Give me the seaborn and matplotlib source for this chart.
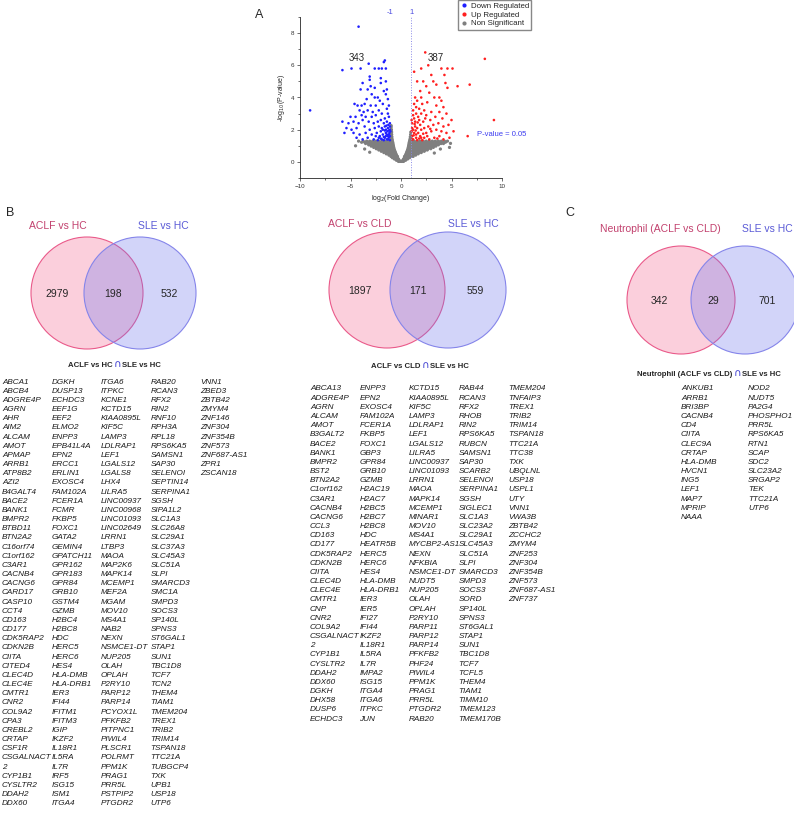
import numpy as np
import pandas as pd
import matplotlib.pyplot as plt
import seaborn as sns
from matplotlib.patches import Circle
from matplotlib.ticker import AutoMinorLocator

sns.set_style("ticks")
plt.rcParams['font.family'] = ['Liberation Sans', 'DejaVu Sans']

# ---- volcano data ----
down_pts = [(-4.2, 8.4), (-9.0, 3.2), (-5.8, 5.7), (-5.8, 2.5), (-4.9, 5.8), (-3.2, 6.1), (-1.6, 6.3),
            (-1.7, 6.2), (-1.5, 5.8), (-1.9, 5.8), (-2.2, 5.8), (-2.6, 5.8), (-4.0, 5.8), (-3.1, 5.3),
            (-3.1, 5.1), (-3.0, 4.7), (-2.0, 5.2), (-2.0, 4.9), (-1.5, 5.0), (-3.8, 4.9), (-4.0, 4.5),
            (-3.3, 4.5), (-2.6, 4.6), (-1.4, 4.5), (-1.7, 4.4), (-2.9, 4.2), (-2.3, 4.0), (-2.6, 4.0),
            (-1.5, 4.2), (-3.4, 3.9), (-2.1, 3.8), (-1.3, 3.9), (-4.6, 3.6), (-4.3, 3.5), (-3.9, 3.5),
            (-3.6, 3.6), (-3.0, 3.5), (-2.5, 3.5), (-1.8, 3.6), (-1.2, 3.5), (-1.4, 3.3), (-4.1, 3.2),
            (-3.7, 3.1), (-3.3, 3.2), (-2.8, 3.1), (-2.2, 3.2), (-1.9, 3.0), (-1.3, 3.0), (-5.0, 2.8),
            (-4.5, 2.8), (-3.9, 2.9), (-3.5, 2.8), (-2.9, 2.8), (-2.5, 2.9), (-1.6, 2.7), (-1.2, 2.8),
            (-5.2, 2.4), (-4.7, 2.5), (-4.2, 2.4), (-3.8, 2.6), (-3.2, 2.5), (-2.7, 2.4), (-2.3, 2.5),
            (-2.0, 2.6), (-1.7, 2.4), (-1.4, 2.5), (-1.1, 2.4), (-5.4, 2.1), (-4.9, 2.0), (-4.4, 2.1),
            (-3.6, 2.2), (-3.1, 2.0), (-2.6, 2.1), (-2.2, 2.2), (-1.9, 2.1), (-1.6, 2.2), (-1.3, 2.1),
            (-1.1, 2.0), (-4.7, 1.8), (-4.1, 1.7), (-3.5, 1.8), (-2.9, 1.7), (-2.4, 1.8), (-2.0, 1.9),
            (-1.8, 1.7), (-1.5, 1.8), (-1.2, 1.7), (-1.05, 1.9), (-4.4, 1.5), (-3.8, 1.4), (-3.3, 1.5),
            (-2.7, 1.4), (-2.2, 1.5), (-1.9, 1.4), (-1.6, 1.5), (-1.4, 1.4), (-1.2, 1.5), (-1.1, 1.35),
            (-2.5, 1.6), (-1.7, 1.35), (-1.3, 1.6), (-1.5, 1.6), (-1.15, 1.8), (-1.35, 1.9), (-1.8, 2.0),
            (-2.1, 1.6), (-1.25, 2.3), (-1.5, 2.0), (-5.6, 1.8), (-1.1, 1.6), (-1.3, 1.4), (-1.7, 1.55),
            (-1.4, 1.7), (-1.1, 2.2), (-1.6, 1.95), (-2.0, 1.45), (-1.2, 1.95), (-1.45, 2.25), (-2.3, 1.35)]

up_pts = [(2.4, 6.8), (8.3, 6.4), (2.7, 6.0), (2.0, 5.8), (1.3, 5.6), (4.0, 5.8), (4.6, 5.8), (5.1, 5.8),
          (3.0, 5.4), (4.3, 5.4), (1.6, 5.0), (2.2, 5.0), (3.2, 5.0), (4.4, 4.9), (6.8, 4.8), (5.6, 4.7),
          (3.5, 4.8), (2.5, 4.7), (4.6, 4.6), (1.9, 4.4), (1.4, 4.0), (2.8, 4.3), (3.3, 4.0), (3.8, 4.0),
          (4.0, 3.8), (1.6, 3.8), (2.1, 3.6), (2.6, 3.7), (3.5, 3.5), (4.2, 3.4), (1.8, 3.3), (2.3, 3.2),
          (3.0, 3.1), (3.8, 3.1), (4.5, 3.0), (9.2, 2.6), (5.0, 2.6), (4.1, 2.7), (3.4, 2.8), (2.9, 2.6),
          (2.5, 2.9), (2.0, 3.0), (1.5, 3.0), (1.2, 2.9), (4.7, 2.3), (4.2, 2.2), (3.7, 2.4), (3.2, 2.3),
          (2.7, 2.2), (2.2, 2.5), (1.8, 2.6), (1.4, 2.5), (1.1, 2.4), (5.2, 1.9), (4.5, 1.8), (4.0, 1.9),
          (3.5, 2.0), (3.0, 1.9), (2.5, 1.8), (2.0, 2.0), (1.6, 2.1), (1.2, 2.0), (6.6, 1.6), (4.8, 1.5),
          (4.2, 1.4), (3.8, 1.6), (3.3, 1.5), (2.8, 1.4), (2.3, 1.5), (1.9, 1.6), (1.5, 1.5), (1.1, 1.6),
          (1.3, 1.8), (1.7, 1.8), (1.4, 2.2), (1.9, 2.3), (1.2, 1.4), (1.6, 1.35), (2.1, 1.35), (1.05, 1.9),
          (1.3, 2.7), (1.7, 2.8), (2.4, 2.7), (1.5, 3.4), (1.2, 3.2), (2.0, 1.5), (1.5, 1.7), (2.6, 1.6),
          (1.1, 2.1), (1.35, 2.35), (1.8, 1.45), (1.25, 1.65), (2.2, 1.75), (1.45, 1.95), (1.1, 1.4),
          (1.65, 2.45), (2.3, 2.1), (1.05, 2.6), (2.9, 2.05), (3.6, 1.45), (1.3, 3.6), (2.0, 4.0)]

gray_rows = [
    (0.03, [-0.25, -0.1, 0.0, 0.1, 0.25]),
    (0.10, [-0.45, -0.3, -0.18, 0.18, 0.3, 0.45]),
    (0.18, [-0.65, -0.45, -0.25, 0.25, 0.45, 0.65]),
    (0.26, [-0.85, -0.6, -0.35, 0.35, 0.6, 0.85]),
    (0.34, [-1.0, -0.75, -0.5, -0.35, 0.35, 0.5, 0.75, 1.0, 1.2]),
    (0.42, [-1.2, -0.95, -0.7, -0.45, 0.45, 0.7, 0.95, 1.2, 1.45]),
    (0.50, [-1.45, -1.2, -0.95, -0.7, -0.5, 0.5, 0.7, 0.95, 1.2, 1.45, 1.7]),
    (0.58, [-1.7, -1.45, -1.2, -0.95, -0.7, -0.55, 0.55, 0.75, 1.0, 1.25, 1.5, 1.75, 2.0]),
    (0.66, [-1.95, -1.7, -1.45, -1.2, -0.95, -0.75, -0.6, 0.6, 0.8, 1.05, 1.3, 1.55, 1.8, 2.05, 2.3]),
    (0.74, [-2.2, -1.95, -1.7, -1.45, -1.2, -0.95, -0.65, 0.65, 0.9, 1.15, 1.4, 1.65, 1.9, 2.15, 2.4, 2.6]),
    (0.82, [-2.45, -2.2, -1.95, -1.7, -1.45, -1.2, -0.95, -0.7, 0.7, 0.95, 1.2, 1.45, 1.7, 1.95, 2.2,
            2.45, 2.7, 2.95]),
    (0.90, [-2.7, -2.45, -2.2, -1.95, -1.7, -1.45, -1.2, -0.95, -0.72, 0.72, 0.95, 1.2, 1.45, 1.7,
            1.95, 2.2, 2.45, 2.7, 2.95, 3.2]),
    (0.98, [-2.95, -2.7, -2.45, -2.2, -1.95, -1.7, -1.45, -1.2, -0.95, -0.75, 0.75, 0.95, 1.2, 1.45,
            1.7, 1.95, 2.2, 2.45, 2.7, 2.95, 3.2, 3.45]),
    (1.06, [-3.2, -2.95, -2.7, -2.45, -2.2, -1.95, -1.7, -1.45, -1.2, -0.98, -0.78, 0.78, 0.98, 1.2,
            1.45, 1.7, 1.95, 2.2, 2.45, 2.7, 2.95, 3.2, 3.45, 3.7]),
    (1.14, [-3.5, -3.2, -2.95, -2.7, -2.45, -2.2, -1.95, -1.7, -1.45, -1.2, -0.98, -0.8, 0.8, 0.98,
            1.2, 1.45, 1.7, 1.95, 2.2, 2.45, 2.7, 2.95, 3.2, 3.45, 3.7, 3.95, 4.2]),
    (1.22, [-3.9, -3.6, -3.3, -3.0, -2.7, -2.45, -2.2, -1.95, -1.7, -1.45, -1.2, -1.0, -0.82, 0.82,
            1.0, 1.2, 1.45, 1.7, 1.95, 2.2, 2.45, 2.7, 2.95, 3.2, 3.5, 3.8, 4.1, 4.4]),
    (1.29, [-4.2, -3.75, -3.4, -3.1, -2.8, -2.5, -2.2, -1.9, -1.6, -1.3, -1.05, -0.85, 0.85, 1.05,
            1.3, 1.6, 1.9, 2.2, 2.5, 2.8, 3.1, 3.4, 3.7, 4.0, 4.3, 4.6]),
    (1.40, [-0.97, -0.87, 0.88, 0.97]),
    (1.55, [-0.98, -0.9, 0.92, 0.98]),
    (1.70, [-0.98, -0.92, 0.95]),
    (1.85, [-0.98, -0.93, 0.97]),
    (2.00, [-0.98, -0.95]),
    (2.15, [-0.98]),
    (2.25, [-0.97]),
]
gray_extra = [(4.9, 1.15), (-4.5, 1.0), (4.8, 0.9), (-3.6, 0.8), (3.9, 0.8), (-3.1, 0.6), (3.3, 0.55)]

# ---- venn counts ----
venn_b1 = {"left": 2979, "both": 198, "right": 532}
venn_b2 = {"left": 1897, "both": 171, "right": 559}
venn_c = {"left": 342, "both": 29, "right": 701}

# ---- intersecting genes ----
genes_b1 = [
    ["ABCA1", "ABCB4", "ADGRE4P", "AGRN", "AHR", "AIM2", "ALCAM", "AMOT", "APMAP", "ARRB1", "ATP8B2",
     "AZI2", "B4GALT4", "BACE2", "BANK1", "BMPR2", "BTBD11", "BTN2A2", "C16orf74", "C1orf162", "C3AR1",
     "CACNB4", "CACNG6", "CARD17", "CASP10", "CCT4", "CD163", "CD177", "CDK5RAP2", "CDKN2B", "CIITA",
     "CITED4", "CLEC4D", "CLEC4E", "CMTR1", "CNR2", "COL9A2", "CPA3", "CREBL2", "CRTAP", "CSF1R",
     "CSGALNACT", "2", "CYP1B1", "CYSLTR2", "DDAH2", "DDX60"],
    ["DGKH", "DUSP13", "ECHDC3", "EEF1G", "EEF2", "ELMO2", "ENPP3", "EPB41L4A", "EPN2", "ERCC1", "ERLIN1",
     "EXOSC4", "FAM102A", "FCER1A", "FCMR", "FKBP5", "FOXC1", "GATA2", "GEMIN4", "GPATCH11", "GPR162",
     "GPR183", "GPR84", "GRB10", "GSTM4", "GZMB", "H2BC4", "H2BC8", "HDC", "HERC5", "HERC6", "HES4",
     "HLA-DMB", "HLA-DRB1", "IER3", "IFI44", "IFITM1", "IFITM3", "IGIP", "IKZF2", "IL18R1", "IL5RA",
     "IL7R", "IRF5", "ISG15", "ISM1", "ITGA4"],
    ["ITGA6", "ITPKC", "KCNE1", "KCTD15", "KIAA0895L", "KIF5C", "LAMP3", "LDLRAP1", "LEF1", "LGALS12",
     "LGALS8", "LHX4", "LILRA5", "LINC00937", "LINC00968", "LINC01093", "LINC02649", "LRRN1", "LTBP3",
     "MAOA", "MAP2K6", "MAPK14", "MCEMP1", "MEF2A", "MGAM", "MOV10", "MS4A1", "NAB2", "NEXN", "NSMCE1-DT",
     "NUP205", "OLAH", "OPLAH", "P2RY10", "PARP12", "PARP14", "PCYOX1L", "PFKFB2", "PITPNC1", "PIWIL4",
     "PLSCR1", "POLRMT", "PPM1K", "PRAG1", "PRR5L", "PSTPIP2", "PTGDR2"],
    ["RAB20", "RCAN3", "RFX2", "RIN2", "RNF10", "RPH3A", "RPL18", "RPS6KA5", "SAMSN1", "SAP30", "SELENOI",
     "SEPTIN14", "SERPINA1", "SGSH", "SIPA1L2", "SLC1A3", "SLC26A8", "SLC29A1", "SLC37A3", "SLC45A3",
     "SLC51A", "SLPI", "SMARCD3", "SMC1A", "SMPD3", "SOCS3", "SP140L", "SPNS3", "ST6GAL1", "STAP1", "SUN1",
     "TBC1D8", "TCF7", "TCN2", "THEM4", "TIAM1", "TMEM204", "TREX1", "TRIB2", "TRIM14", "TSPAN18",
     "TTC21A", "TUBGCP4", "TXK", "UPB1", "USP18", "UTP6"],
    ["VNN1", "ZBED3", "ZBTB42", "ZMYM4", "ZNF146", "ZNF304", "ZNF354B", "ZNF573", "ZNF687-AS1", "ZPR1",
     "ZSCAN18"],
]
genes_b2 = [
    ["ABCA13", "ADGRE4P", "AGRN", "ALCAM", "AMOT", "B3GALT2", "BACE2", "BANK1", "BMPR2", "BST2", "BTN2A2",
     "C1orf162", "C3AR1", "CACNB4", "CACNG6", "CCL3", "CD163", "CD177", "CDK5RAP2", "CDKN2B", "CIITA",
     "CLEC4D", "CLEC4E", "CMTR1", "CNP", "CNR2", "COL9A2", "CSGALNACT", "2", "CYP1B1", "CYSLTR2", "DDAH2",
     "DDX60", "DGKH", "DHX58", "DUSP6", "ECHDC3"],
    ["ENPP3", "EPN2", "EXOSC4", "FAM102A", "FCER1A", "FKBP5", "FOXC1", "GBP3", "GPR84", "GRB10", "GZMB",
     "H2AC19", "H2AC7", "H2BC5", "H2BC7", "H2BC8", "HDC", "HEATR5B", "HERC5", "HERC6", "HES4", "HLA-DMB",
     "HLA-DRB1", "IER3", "IER5", "IFI27", "IFI44", "IKZF2", "IL18R1", "IL5RA", "IL7R", "IMPA2", "ISG15",
     "ITGA4", "ITGA6", "ITPKC", "JUN"],
    ["KCTD15", "KIAA0895L", "KIF5C", "LAMP3", "LDLRAP1", "LEF1", "LGALS12", "LILRA5", "LINC00937",
     "LINC01093", "LRRN1", "MAOA", "MAPK14", "MCEMP1", "MINAR1", "MOV10", "MS4A1", "MYCBP2-AS1", "NEXN",
     "NFKBIA", "NSMCE1-DT", "NUDT5", "NUP205", "OLAH", "OPLAH", "P2RY10", "PARP11", "PARP12", "PARP14",
     "PFKFB2", "PHF24", "PIWIL4", "PPM1K", "PRAG1", "PRR5L", "PTGDR2", "RAB20"],
    ["RAB44", "RCAN3", "RFX2", "RHOB", "RIN2", "RPS6KA5", "RUBCN", "SAMSN1", "SAP30", "SCARB2", "SELENOI",
     "SERPINA1", "SGSH", "SIGLEC1", "SLC1A3", "SLC23A2", "SLC29A1", "SLC45A3", "SLC51A", "SLPI", "SMARCD3",
     "SMPD3", "SOCS3", "SORD", "SP140L", "SPNS3", "ST6GAL1", "STAP1", "SUN1", "TBC1D8", "TCF7", "TCFL5",
     "THEM4", "TIAM1", "TIMM10", "TMEM123", "TMEM170B"],
    ["TMEM204", "TNFAIP3", "TREX1", "TRIB2", "TRIM14", "TSPAN18", "TTC21A", "TTC38", "TXK", "UBQLNL",
     "USP18", "USPL1", "UTY", "VNN1", "VWA3B", "ZBTB42", "ZCCHC2", "ZMYM4", "ZNF253", "ZNF304", "ZNF354B",
     "ZNF573", "ZNF687-AS1", "ZNF737"],
]
genes_c = [
    ["ANKUB1", "ARRB1", "BRI3BP", "CACNB4", "CD4", "CIITA", "CLEC9A", "CRTAP", "HLA-DMB", "HVCN1", "ING5",
     "LEF1", "MAP7", "MPRIP", "NAAA"],
    ["NOD2", "NUDT5", "PA2G4", "PHOSPHO1", "PRR5L", "RPS6KA5", "RTN1", "SCAP", "SDC2", "SLC23A2", "SRGAP2",
     "TEK", "TTC21A", "UTP6"],
]

# ---- build volcano frame ----
gray_pts = [(x, y) for y, xs in gray_rows for x in xs] + gray_extra
df_gray = pd.DataFrame(gray_pts, columns=["fc", "p"]).assign(group="Non Significant")
df_sig = pd.concat([
    pd.DataFrame(down_pts, columns=["fc", "p"]).assign(group="Down Regulated"),
    pd.DataFrame(up_pts, columns=["fc", "p"]).assign(group="Up Regulated"),
], ignore_index=True)

W, H = 794, 816
fig = plt.figure(figsize=(W / 100, H / 100), dpi=100)

# overlay axes in pixel coords for venns and gene lists
ov = fig.add_axes([0, 0, 1, 1])
ov.set_xlim(0, W)
ov.set_ylim(H, 0)
ov.axis("off")

ax = fig.add_axes([300 / W, 1 - 178 / H, 202 / W, 161 / H])
palette = {"Down Regulated": "#1f1fff", "Up Regulated": "#ff1f1f", "Non Significant": "#7f7f7f"}
order = ["Down Regulated", "Up Regulated", "Non Significant"]
sns.scatterplot(data=df_gray, x="fc", y="p", hue="group", palette=palette, s=5.5, linewidth=0,
                hue_order=order, ax=ax, legend=False)
sns.scatterplot(data=df_sig, x="fc", y="p", hue="group", palette=palette, s=3.5, linewidth=0,
                hue_order=order, ax=ax, legend=False)
ax.set_xlim(-10, 10)
ax.set_ylim(-1, 9)
ax.set_xticks([-10, -5, 0, 5, 10])
ax.set_yticks([0, 2, 4, 6, 8])
ax.xaxis.set_minor_locator(AutoMinorLocator(2))
ax.yaxis.set_minor_locator(AutoMinorLocator(2))
ax.tick_params(which="both", direction="out", labelsize=4.5, width=0.5, pad=1.5, colors="#333333")
ax.tick_params(which="major", length=2.5)
ax.tick_params(which="minor", length=1.5)
sns.despine(ax=ax)
for sp in ax.spines.values():
    sp.set_linewidth(0.6)
ax.set_xlabel(r"log$_2$(Fold Change)", fontsize=5, labelpad=3)
ax.set_ylabel(r"-log$_{10}$(P-value)", fontsize=5, labelpad=3)
ax.axvline(1, color="#8a8ae8", ls=":", lw=0.7)
ax.text(-1.1, 9.3, "-1", color="#4a4ae0", fontsize=5.5, ha="center", va="center", clip_on=False)
ax.text(1.05, 9.3, "1", color="#4a4ae0", fontsize=5.5, ha="center", va="center", clip_on=False)
ax.text(-4.4, 6.45, "343", fontsize=7, ha="center", va="center")
ax.text(3.4, 6.45, "387", fontsize=7, ha="center", va="center")
ax.text(7.5, 1.68, "P-value = 0.05", color="#3c3cf0", fontsize=5.5, ha="left", va="center", clip_on=False)

handles = [plt.Line2D([], [], ls="", marker="o", ms=3, mec="none", mfc=palette[g]) for g in order]
fig.legend(handles, order, loc="upper left", bbox_to_anchor=(458 / W, 1.0), fontsize=5.7,
           frameon=True, fancybox=False, edgecolor="#888888", framealpha=1, borderpad=0.3,
           handletextpad=0.3, labelspacing=0.15, handlelength=1.0, borderaxespad=0)

ov.text(259, 15, "A", fontsize=9, ha="center", va="center")
ov.text(10, 213, "B", fontsize=9, ha="center", va="center")
ov.text(570, 213, "C", fontsize=9, ha="center", va="center")

# ---- venns ----
pink_fc = (242 / 255, 98 / 255, 142 / 255, 0.3)
blue_fc = (108 / 255, 115 / 255, 238 / 255, 0.3)
pink_txt, blue_txt = "#c2416e", "#5a5ad6"


def venn(counts, cl, cr, cy, r, lab_l, lab_r, xl, xr, ylab):
    ov.add_patch(Circle((cl, cy), r, fc=pink_fc, ec="#ea5a8a", lw=0.8))
    ov.add_patch(Circle((cr, cy), r, fc=blue_fc, ec="#8585ea", lw=0.8))
    mid = (cl + r + cr - r) / 2
    ov.text((cl - r + cr - r) / 2, cy + 1, f"{counts['left']}", fontsize=7.5, ha="center", va="center")
    ov.text(mid, cy + 1, f"{counts['both']}", fontsize=7.5, ha="center", va="center")
    ov.text((cl + r + cr + r) / 2, cy + 1, f"{counts['right']}", fontsize=7.5, ha="center", va="center")
    ov.text(xl, ylab, lab_l, color=pink_txt, fontsize=7.5, ha="center", va="center")
    ov.text(xr, ylab, lab_r, color=blue_txt, fontsize=7.5, ha="center", va="center")


venn(venn_b1, 87, 140, 293, 56, "ACLF vs HC", "SLE vs HC", 58, 163, 226)
venn(venn_b2, 387, 448, 290, 58, "ACLF vs CLD", "SLE vs HC", 360, 473, 224)
venn(venn_c, 681, 745, 300, 54, "Neutrophil (ACLF vs CLD)", "SLE vs HC", 660, 767, 229)


def title(xc, y, left, right):
    # y is the text baseline
    ov.text(xc - 4.5, y, left, fontsize=5.6, weight="bold", ha="right", va="baseline")
    ov.text(xc, y, "\u2229", fontsize=7.5, color="#3a3ad0", ha="center", va="baseline",
            family=["DejaVu Sans"])
    ov.text(xc + 5, y, right, fontsize=5.6, weight="bold", ha="left", va="baseline")


title(117, 367, "ACLF vs HC", "SLE vs HC")
title(425, 368, "ACLF vs CLD", "SLE vs HC")
title(737, 376, "Neutrophil (ACLF vs CLD)", "SLE vs HC")


def gene_table(cols, x0, dx, y0, dy=9.17):
    for ci, col in enumerate(cols):
        for ri, g in enumerate(col):
            ov.text(x0 + ci * dx, y0 + ri * dy, g, fontsize=5.9, style="italic",
                    color="#1a1a1a", ha="left", va="center")


gene_table(genes_b1, 2, 49.5, 382)
gene_table(genes_b2, 310, 49.5, 389)
gene_table(genes_c, 681, 67, 389)

fig.savefig("out.png", dpi=100)
